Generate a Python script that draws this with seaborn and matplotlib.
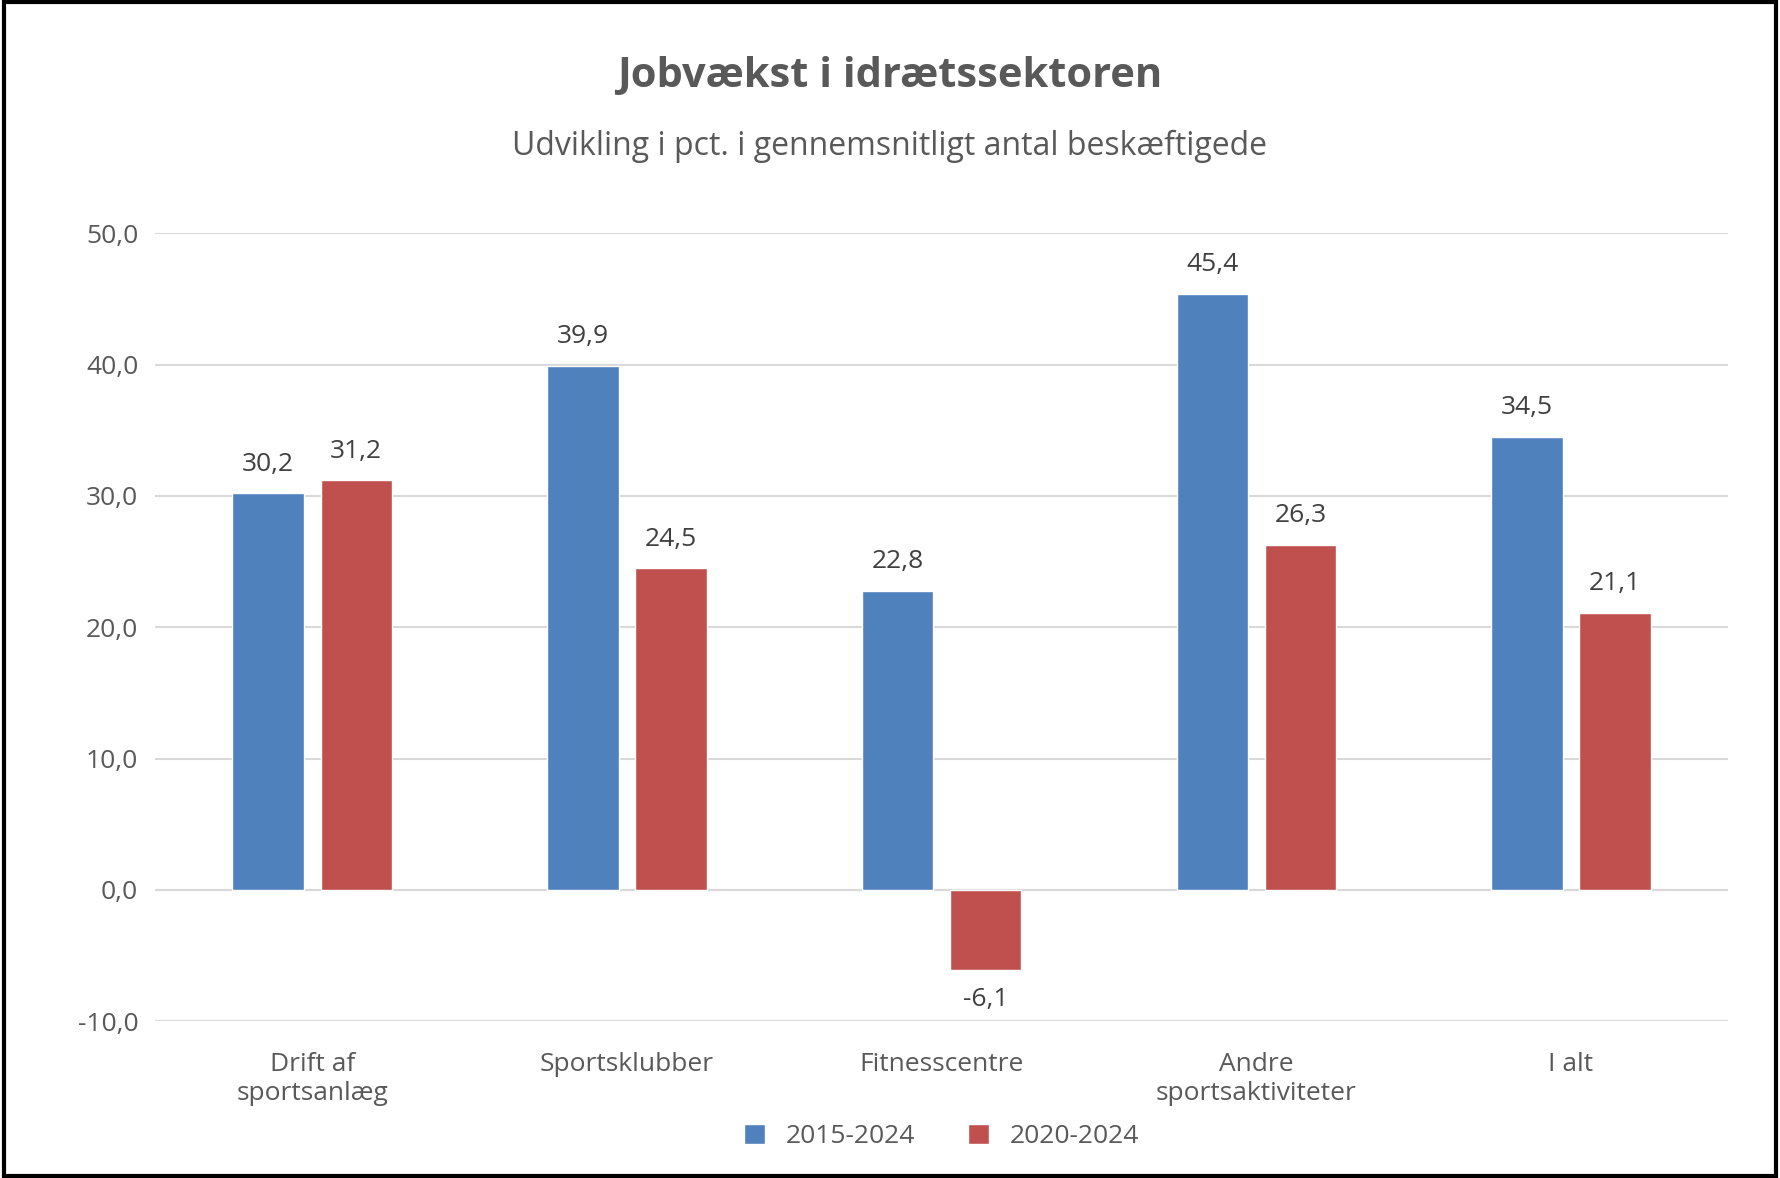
import numpy as np
import pandas as pd
import matplotlib.pyplot as plt
import seaborn as sns

# Data
kategorier = ["Drift af\nsportsanlæg", "Sportsklubber", "Fitnesscentre",
              "Andre\nsportsaktiviteter", "I alt"]
serie_2015 = [30.2, 39.9, 22.8, 45.4, 34.5]
serie_2020 = [31.2, 24.5, -6.1, 26.3, 21.1]
perioder = ["2015-2024", "2020-2024"]

df = pd.DataFrame({
    "kategori": kategorier * 2,
    "periode": [perioder[0]] * 5 + [perioder[1]] * 5,
    "vaerdi": serie_2015 + serie_2020,
})

sns.set_theme(style="white")
plt.rcParams["font.family"] = ["Open Sans", "DejaVu Sans"]
grey = "#595959"

fig = plt.figure(figsize=(17.8, 11.78), dpi=100)
ax = fig.add_axes([0.087, 0.133, 0.884, 0.669])

sns.barplot(data=df, x="kategori", y="vaerdi", hue="periode",
            palette=["#4F81BD", "#C0504D"], width=0.56, gap=0.19,
            saturation=1, ax=ax, zorder=3)

ax.set_ylim(-10, 50)
ax.set_yticks(np.arange(-10, 51, 10))
ax.set_yticklabels([f"{v:.1f}".replace(".", ",") for v in np.arange(-10, 51, 10)],
                   fontsize=19, color=grey)
ax.yaxis.grid(True, color="#D9D9D9", linewidth=1.5, zorder=0)
ax.tick_params(axis="x", length=0, pad=22, labelsize=19, labelcolor=grey)
ax.tick_params(axis="y", length=0, pad=12)
ax.set_xlabel("")
ax.set_ylabel("")
for s in ax.spines.values():
    s.set_visible(False)
ax.axhline(0, color="#D9D9D9", linewidth=1.5, zorder=2)

for cont in ax.containers:
    ax.bar_label(cont, labels=[f"{v:.1f}".replace(".", ",") for v in cont.datavalues],
                 padding=12, fontsize=19, color="#404040")

fig.text(0.5, 0.935, "Jobvækst i idrætssektoren", ha="center", va="center",
         fontsize=30, fontweight="bold", color=grey)
fig.text(0.5, 0.876, "Udvikling i pct. i gennemsnitligt antal beskæftigede",
         ha="center", va="center", fontsize=23, color=grey)

ax.legend(loc="center", bbox_to_anchor=(0.5, -0.146), ncol=2, frameon=False,
          fontsize=19, labelcolor=grey, handlelength=0.8, handleheight=0.8,
          columnspacing=2)

fig.patches.append(plt.Rectangle((0.002, 0.002), 0.996, 0.996, transform=fig.transFigure,
                                 fill=False, edgecolor="black", linewidth=3))

fig.savefig("out.png", dpi=100)
